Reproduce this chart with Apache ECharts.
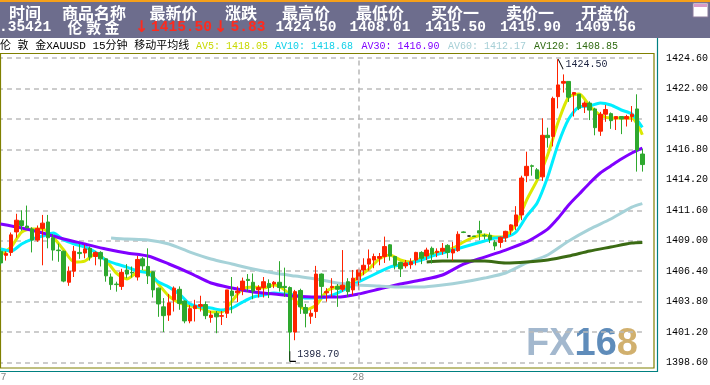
<!DOCTYPE html>
<html><head><meta charset="utf-8">
<script src="https://cdn.jsdelivr.net/npm/echarts@6/dist/echarts.min.js"></script>
<style>html,body{margin:0;padding:0;background:#fff}#c{width:710px;height:385px}</style>
</head><body><div id="c"></div>
<script>
const headerLabels = ['时间','商品名称','最新价','涨跌','最高价','最低价','买价一','卖价一','开盘价'];
const headerValues = ['.35421','伦 敦 金','1415.50','5.83','1424.50','1408.01','1415.50','1415.90','1409.56'];
const titleText = '伦 敦 金XAUUSD 15分钟 移动平均线';
const maNames = ['AV5','AV10','AV30','AV60','AV120'];
const maLast = [1418.05,1418.68,1416.90,1412.17,1408.85];
const yTicks = [1398.6,1401.2,1403.8,1406.4,1409.0,1411.6,1414.2,1416.8,1419.4,1422.0,1424.6];
const xTickIdx = [0,68];
const xTickText = ['27','28'];

const opens = [1408.1,1407.75,1408.0,1409.75,1410.7,1410.25,1410.0,1409.05,1410.05,1410.6,
1409.25,1408.2,1408.1,1405.45,1406.4,1408.0,1407.95,1408.35,1407.65,1408.0,
1407.45,1405.9,1405.3,1405.1,1406.5,1406.3,1405.9,1407.45,1406.8,1406.35,
1404.95,1403.35,1402.65,1403.95,1404.85,1403.85,1402.15,1403.2,1403.4,1403.55,
1402.45,1402.8,1402.55,1402.8,1404.7,1404.55,1404.8,1405.7,1405.45,1404.8,
1405.0,1405.35,1405.3,1405.45,1405.1,1405.0,1401.2,1404.75,1403.3,1402.55,
1402.95,1406.15,1404.55,1405.0,1405.1,1404.85,1405.5,1404.8,1405.65,1406.5,
1407.0,1407.35,1407.5,1407.65,1408.65,1407.65,1407.15,1406.85,1406.95,1407.35,
1408.0,1407.7,1408.35,1408.0,1408.1,1408.6,1407.95,1408.15,1409.75,1409.4,
1409.4,1409.85,1409.45,1409.45,1408.85,1408.85,1409.25,1409.9,1410.25,1411.2,
1414.55,1415.4,1415.05,1414.45,1418.0,1417.9,1421.3,1422.45,1422.6,1421.5,
1421.5,1420.45,1420.75,1420.25,1418.35,1419.8,1419.85,1419.4,1419.6,1419.4,
1419.6,1420.25,1416.4];
const closes = [1407.1,1407.9,1409.5,1410.75,1410.3,1410.1,1409.05,1410.05,1410.5,1409.25,
1408.2,1408.15,1405.55,1406.4,1408.1,1407.9,1408.3,1407.6,1408.0,1407.45,
1406.0,1405.25,1405.25,1406.3,1406.15,1406.25,1407.4,1406.85,1406.0,1404.8,
1403.6,1402.6,1403.7,1404.95,1403.65,1402.15,1403.2,1403.45,1403.55,1402.6,
1402.65,1402.5,1402.6,1404.8,1404.3,1404.7,1405.55,1405.6,1404.7,1405.0,
1405.5,1405.0,1405.45,1405.0,1405.0,1401.2,1404.65,1403.35,1402.8,1402.8,
1406.15,1405.1,1404.65,1405.1,1404.85,1405.2,1404.65,1405.8,1406.5,1406.9,
1407.45,1407.65,1407.65,1408.5,1407.7,1406.9,1406.6,1407.1,1407.2,1408.0,
1407.5,1408.2,1407.85,1408.1,1408.35,1408.0,1408.25,1409.55,1409.7,1409.4,
1409.35,1409.65,1409.4,1409.1,1408.55,1409.3,1409.8,1410.35,1411.2,1414.35,
1415.35,1415.35,1414.3,1418.0,1417.8,1421.15,1422.3,1422.6,1421.25,1421.65,
1420.3,1420.75,1420.15,1418.65,1419.8,1420.2,1419.25,1419.6,1419.4,1419.6,
1419.8,1416.75,1415.5];
const lows = [1406.9,1407.3,1407.7,1409.25,1409.85,1410.05,1408.0,1408.9,1406.9,1408.35,
1407.3,1407.2,1405.45,1405.15,1405.9,1407.45,1407.5,1407.3,1406.9,1406.8,
1405.5,1404.8,1404.65,1404.8,1405.8,1405.85,1405.6,1406.5,1405.3,1404.15,
1402.5,1401.2,1402.15,1402.95,1403.1,1401.95,1401.95,1402.1,1402.95,1402.3,
1402.0,1401.1,1401.8,1402.4,1402.8,1403.75,1404.35,1404.65,1404.0,1404.15,
1404.15,1404.1,1404.95,1404.65,1404.2,1398.7,1400.5,1402.75,1401.6,1401.9,
1402.4,1404.1,1403.8,1404.2,1403.35,1404.65,1404.2,1404.35,1404.8,1406.05,
1406.45,1406.65,1406.9,1407.1,1407.3,1406.55,1405.9,1406.65,1406.6,1406.9,
1407.0,1407.35,1407.05,1407.6,1407.8,1407.5,1407.3,1408.05,1409.65,1409.4,
1409.35,1409.05,1409.1,1408.8,1408.2,1408.4,1408.9,1409.5,1409.9,1410.75,
1414.0,1414.55,1414.25,1414.1,1416.95,1417.05,1420.3,1421.65,1420.85,1419.6,
1420.15,1419.9,1419.3,1418.0,1417.95,1419.15,1418.55,1418.45,1418.1,1418.75,
1419.15,1414.9,1414.9];
const highs = [1408.3,1408.1,1409.7,1411.3,1411.6,1412.0,1410.15,1410.3,1411.2,1411.2,
1409.55,1408.75,1408.15,1406.8,1408.55,1408.7,1408.65,1408.5,1408.1,1408.1,
1407.5,1406.2,1405.5,1406.6,1407.0,1406.8,1407.7,1407.6,1408.35,1406.4,
1405.0,1404.1,1404.45,1405.1,1405.1,1403.9,1403.5,1403.95,1404.3,1403.8,
1403.0,1403.0,1403.0,1404.8,1405.9,1405.1,1405.85,1406.15,1406.2,1405.2,
1405.9,1405.7,1405.55,1407.25,1406.7,1405.1,1404.8,1404.9,1403.6,1403.1,
1406.85,1406.2,1404.95,1405.8,1405.3,1408.2,1405.8,1406.5,1406.55,1407.5,
1408.25,1407.9,1407.95,1409.35,1408.7,1407.7,1407.2,1407.35,1407.5,1408.05,
1408.1,1408.4,1408.5,1408.35,1408.8,1408.7,1408.9,1409.8,1409.8,1409.4,
1409.4,1410.7,1409.6,1409.7,1409.05,1409.35,1409.85,1410.4,1411.95,1414.55,
1416.6,1415.5,1415.2,1419.45,1418.65,1421.3,1424.5,1423.2,1422.6,1421.7,
1421.5,1420.9,1420.9,1420.35,1420.0,1420.6,1419.95,1419.6,1419.6,1419.75,
1420.5,1421.5,1416.85];

const ma5 = [[0,1407.78],[2,1408.46],[4,1409.74],[6,1410.0],[8,1410.0],[10,1409.31],[12,1408.2],[14,1407.18],[16,1407.26],[18,1407.86],[20,1407.35],[22,1406.24],[24,1405.73],[26,1406.3],[28,1406.41],[30,1405.3],[32,1404.27],[34,1403.68],[36,1403.42],[38,1403.25],[40,1402.91],[42,1402.91],[44,1403.85],[46,1404.87],[48,1405.04],[50,1404.96],[52,1405.21],[54,1404.79],[56,1403.9],[58,1403.1],[60,1403.5],[62,1404.7],[64,1405.04],[66,1405.13],[68,1405.9],[70,1406.58],[72,1407.44],[74,1407.78],[76,1407.35],[78,1407.18],[80,1407.52],[82,1407.86],[84,1408.03],[86,1408.37],[88,1408.89],[90,1409.31],[92,1409.48],[94,1409.31],[96,1409.4],[98,1410.42],[100,1412.47],[102,1414.18],[104,1416.32],[106,1419.13],[108,1421.27],[110,1421.53],[112,1420.5],[114,1419.73],[116,1419.48],[118,1419.48],[120,1419.48],[122,1418.05]];
const ma10 = [[0,1408.29],[2,1408.12],[4,1408.72],[6,1409.14],[8,1409.4],[10,1409.66],[12,1409.06],[14,1408.72],[16,1408.46],[18,1408.03],[20,1407.35],[22,1407.01],[24,1406.75],[26,1406.41],[28,1406.24],[30,1405.47],[32,1405.04],[34,1404.44],[36,1403.59],[38,1403.34],[40,1403.25],[42,1403.08],[44,1403.25],[46,1403.76],[48,1404.19],[50,1404.36],[52,1404.53],[54,1404.44],[56,1404.36],[58,1404.1],[60,1404.1],[62,1404.19],[64,1404.53],[66,1404.96],[68,1405.47],[70,1405.9],[72,1406.33],[74,1406.75],[76,1406.92],[78,1407.1],[80,1407.35],[82,1407.69],[84,1407.95],[86,1408.2],[88,1408.46],[90,1408.72],[92,1408.97],[94,1409.23],[96,1409.31],[98,1409.74],[100,1411.1],[102,1412.22],[104,1414.44],[106,1417.26],[108,1419.39],[110,1420.42],[112,1420.5],[114,1420.76],[116,1420.59],[118,1420.16],[120,1419.82],[122,1418.68]];
const ma30 = [[0,1410.42],[4,1410.08],[8,1409.66],[12,1409.14],[16,1408.72],[20,1408.29],[24,1407.95],[28,1407.69],[32,1407.01],[36,1406.24],[40,1405.39],[44,1404.96],[48,1404.62],[52,1404.45],[56,1404.27],[60,1404.19],[64,1404.19],[68,1404.45],[72,1404.87],[76,1405.3],[80,1405.64],[84,1406.07],[88,1407.0],[92,1407.6],[96,1408.2],[100,1408.89],[102,1409.4],[104,1409.99],[106,1410.94],[108,1412.05],[110,1412.99],[112,1413.93],[114,1414.78],[116,1415.38],[118,1415.97],[120,1416.49],[122,1416.9]];
const ma60 = [[21,1409.23],[24,1409.14],[28,1409.06],[32,1408.72],[36,1408.03],[40,1407.44],[44,1407.01],[48,1406.58],[52,1406.24],[56,1405.98],[60,1405.73],[64,1405.39],[68,1405.21],[72,1405.13],[76,1405.04],[80,1405.04],[84,1405.21],[88,1405.47],[92,1405.81],[96,1406.24],[100,1407.1],[104,1407.78],[108,1408.97],[112,1409.99],[116,1410.85],[120,1411.87],[122,1412.17]];
const ma120 = [[81,1407.18],[84,1407.26],[88,1407.26],[92,1407.26],[96,1407.1],[100,1407.18],[104,1407.35],[108,1407.69],[112,1408.12],[116,1408.46],[120,1408.8],[122,1408.85]];

const maData = [ma5, ma10, ma30, ma60, ma120];
const maLineColors = ['#dbe800','#00eeff','#8000ff','#a6d2d8','#3b6b14'];
const maTextColors = ['#c8d800','#10d0e8','#8000ff','#a6cfd6','#2f6a10'];
const UP = '#ff2200', DOWN = '#2ea82e';

const categories = opens.map((_, i) => String(i));
const candles = opens.map((o, i) => [o, closes[i], lows[i], highs[i]]);

const chart = echarts.init(document.getElementById('c'), null, {renderer: 'canvas'});

const monoFont = '"Liberation Mono", "Noto Sans CJK SC", monospace';
const graphics = [];
graphics.push({type:'rect', shape:{x:0,y:0,width:710,height:38}, style:{fill:'#6d6d8d'}, z:0});
graphics.push({type:'rect', shape:{x:0,y:0,width:710,height:2}, style:{fill:'#f5a01a'}, z:1});
const labelX = [25,94,173.5,241,306,380,455,530,605];
const valueX = [-1,93.5,181.5,248,306,380,455.5,530.5,605.5];
headerLabels.forEach((t, i) => {
  graphics.push({type:'text', z:2, style:{text:t, x:labelX[i], y:12.5, align:'center', verticalAlign:'middle', fill:'#ffffff', font:'bold 16px "Noto Sans CJK SC"'}});
});
headerValues.forEach((t, i) => {
  const red = (i === 2 || i === 3);
  const cjk = (i === 1);
  graphics.push({type:'text', z:2, style:{text:t, x:valueX[i], y:27.5, align: i === 0 ? 'left' : 'center', verticalAlign:'middle', fill: red ? '#ff2a1e' : '#ffffff', font: cjk ? 'bold 15px "Noto Sans CJK SC"' : 'bold 14.5px "Liberation Mono"'}});
});
[141.5, 220.5].forEach(x => {
  graphics.push({type:'text', z:2, style:{text:'↓', x:x, y:27.5, align:'center', verticalAlign:'middle', fill:'#ff2a1e', font:'bold 16px "DejaVu Sans"'}});
});
graphics.push({type:'rect', z:2, shape:{x:693,y:3,width:15,height:14}, style:{fill:'#ffffff', stroke:'#8a7a9a', lineWidth:1}});
graphics.push({type:'rect', z:3, shape:{x:694,y:4,width:13,height:3}, style:{fill:'#d89ac8'}});
graphics.push({type:'text', z:2, style:{text:titleText, x:0, y:46, align:'left', verticalAlign:'middle', fill:'#000', font:'11px ' + monoFont}});
const legX = [196, 275, 361.5, 448, 534];
maNames.forEach((n, i) => {
  graphics.push({type:'text', z:2, style:{text: n + ': ' + maLast[i].toFixed(2), x:legX[i], y:46, align:'left', verticalAlign:'middle', fill:maTextColors[i], font:'10px "Liberation Mono"'}});
});
graphics.push({type:'rect', z:1, shape:{x:0.5,y:53.5,width:653.5,height:314.5}, style:{fill:'none', stroke:'#808000', lineWidth:1.2}});
graphics.push({type:'line', z:1, shape:{x1:657.5,y1:38,x2:657.5,y2:372}, style:{stroke:'#008080', lineWidth:1.2}});
graphics.push({type:'line', z:1, shape:{x1:0,y1:371.5,x2:657.5,y2:371.5}, style:{stroke:'#008080', lineWidth:1.2}});
graphics.push({type:'text', z:0, style:{text:'{a|FX}{b|16}{c|8}', x:526, y:345, align:'left', verticalAlign:'middle',
  rich:{a:{fontSize:38, fontWeight:'bold', fontFamily:'Liberation Sans', fill:'#a3b8ce'},
        b:{fontSize:38, fontWeight:'bold', fontFamily:'Liberation Sans', fill:'#5f8cba'},
        c:{fontSize:38, fontWeight:'bold', fontFamily:'Liberation Sans', fill:'#d1b06e'}}}});

const series = maData.map((d, i) => ({
  type:'line', name:maNames[i], data:d, showSymbol:false, symbol:'none', smooth:0.25,
  lineStyle:{color:maLineColors[i], width:3}, z:3, silent:true
}));
series.push({
  type:'candlestick', data:candles, barWidth:4, z:4,
  itemStyle:{color:UP, color0:DOWN, borderColor:UP, borderColor0:DOWN, borderColorDoji:'#000', borderWidth:1},
  markLine:{silent:true, symbol:'none', label:{show:false},
    lineStyle:{color:'#b8b8b8', type:[5,4], width:1.5},
    data:[{xAxis: xTickIdx[1]}]},
  markPoint:{silent:true, animation:false,
    data:[
      {coord:[106, highs[106]], symbol:'path://M0,0L5,10', symbolSize:[5,10], symbolOffset:[2.5,5],
       itemStyle:{color:'transparent', borderColor:'#000', borderWidth:1},
       label:{show:true, position:'right', distance:2, formatter: highs[106].toFixed(2), color:'#1c2340', fontSize:10, fontFamily:'Liberation Mono'}},
      {coord:[55, lows[55]], symbol:'path://M0,0L0,10L6,10', symbolSize:[6,10], symbolOffset:[3,-5],
       itemStyle:{color:'transparent', borderColor:'#000', borderWidth:1},
       label:{show:true, position:'right', distance:1, offset:[0,-2], formatter: lows[55].toFixed(2), color:'#1c2340', fontSize:10, fontFamily:'Liberation Mono'}}
    ]}
});

chart.setOption({
  animation:false,
  backgroundColor:'#ffffff',
  grid:{left:-2.03, top:58, width:647, height:304.5, containLabel:false, outerBoundsMode:'none'},
  xAxis:{type:'category', data:categories, boundaryGap:true,
    axisLine:{show:false}, axisTick:{show:false}, splitLine:{show:false},
    axisLabel:{show:true, interval:(idx) => xTickIdx.indexOf(idx) >= 0, margin:10,
      formatter:(v, idx) => { const k = xTickIdx.indexOf(idx); return k >= 0 ? xTickText[k] : ''; },
      color:'#8a8a8a', fontSize:10, fontFamily:'Liberation Mono'}},
  yAxis:{type:'value', position:'right', min:yTicks[0], max:yTicks[yTicks.length-1], scale:true,
    axisLine:{show:false},
    axisTick:{show:false, customValues:yTicks},
    axisLabel:{customValues:yTicks, formatter:(v) => v.toFixed(2), margin:21, color:'#000', fontSize:10, fontFamily:'Liberation Mono', align:'left'},
    splitLine:{show:true, lineStyle:{color:'#bcbcbc', type:[5,4], width:1.5}}},
  graphic:graphics,
  series:series
});
</script></body></html>
